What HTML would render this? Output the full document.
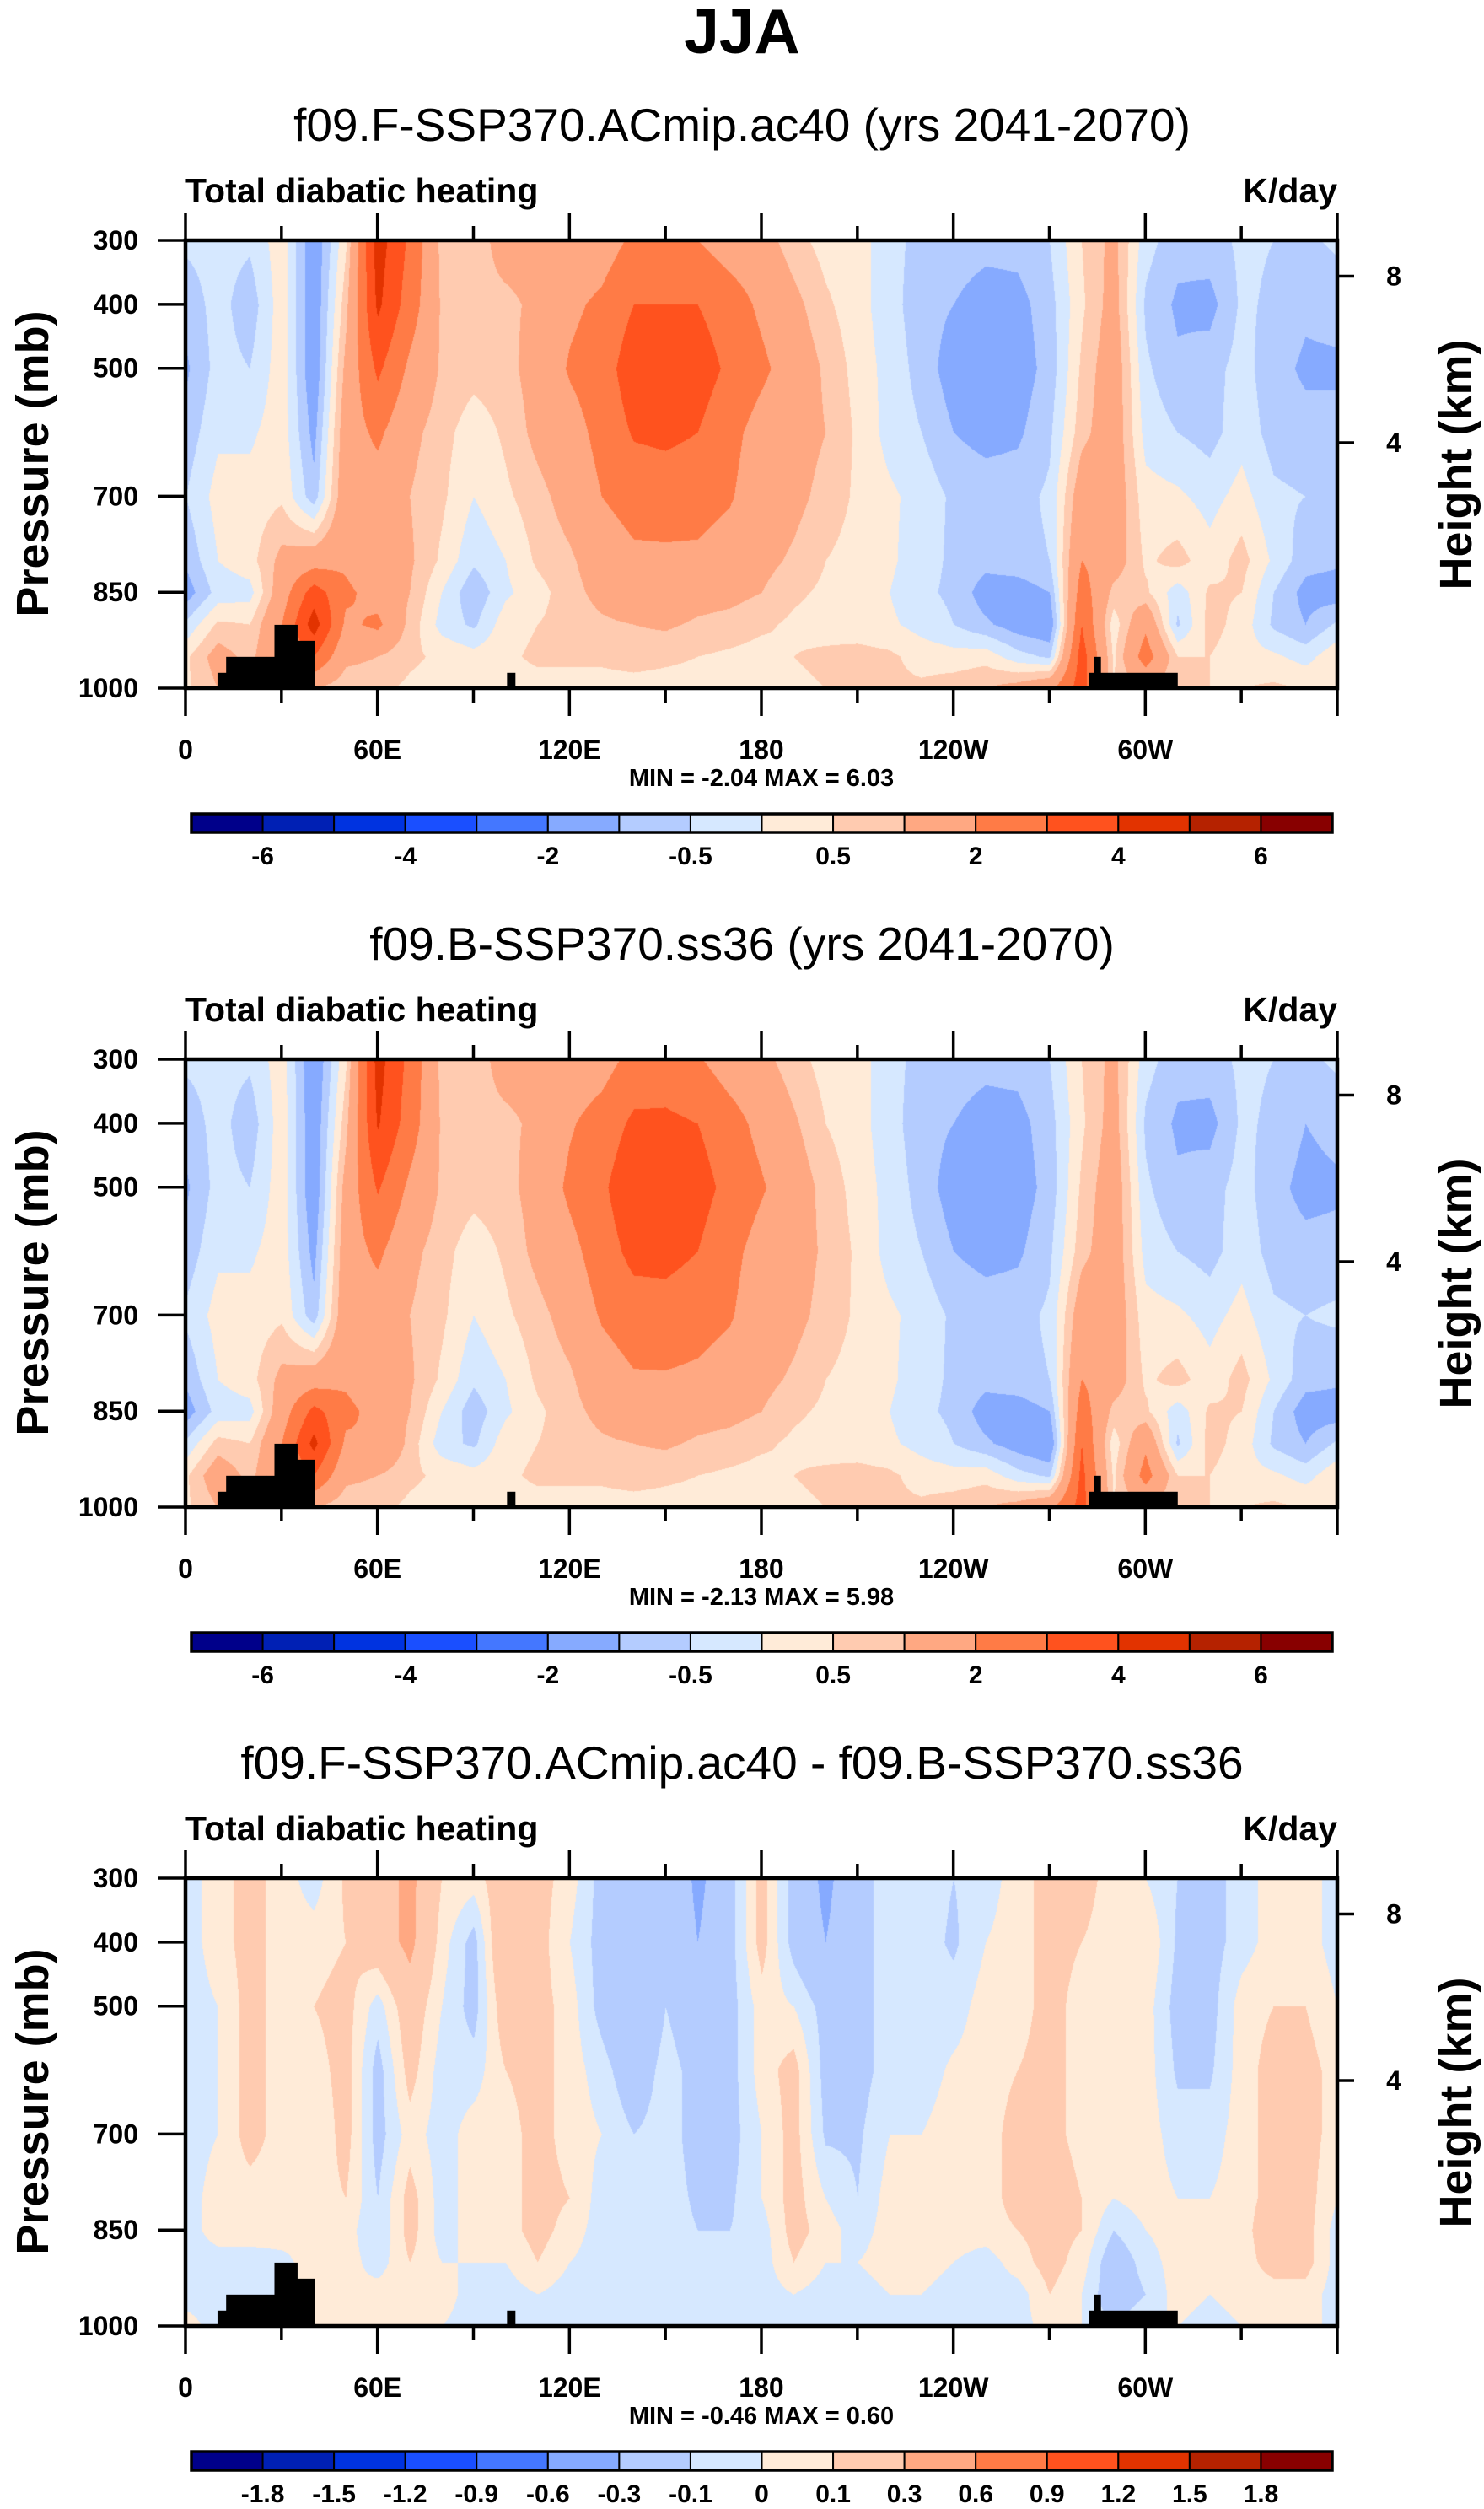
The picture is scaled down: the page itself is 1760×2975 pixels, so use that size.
<!DOCTYPE html>
<html><head><meta charset="utf-8">
<style>
html,body{margin:0;padding:0;background:#fff;}
#wrap{position:relative;width:1760px;height:2975px;overflow:hidden;background:#fff;}
canvas{position:absolute;left:220px;}
svg{position:absolute;left:0;top:0;}
text{font-family:"Liberation Sans",sans-serif;fill:#000;}
</style></head>
<body>
<div id="wrap">
<canvas id="c0" width="1366" height="531" style="top:285px"></canvas>
<canvas id="c1" width="1366" height="531" style="top:1256px"></canvas>
<canvas id="c2" width="1366" height="531" style="top:2227px"></canvas>
<svg id="ov" width="1760" height="2975" viewBox="0 0 1760 2975">
<text x="880" y="63" text-anchor="middle" font-size="75" font-weight="bold">JJA</text>
</svg>
</div>
<script>
// ---------- data ----------
const lonNodes=[0,10,20,30,40,50,60,70,80,90,100,110,120,130,140,150,160,170,180,190,200,210,220,230,240,250,260,270,280,290,300,310,320,330,340,350,360];
const presNodes=[300,400,500,600,700,800,850,900,950,1000];
// each inner array: one longitude column, values at presNodes (K/day)
const heat1=[
[-0.4,-0.8,-1.1,-0.8,-0.5,-0.9,-1.3,-0.4,0.4,0.4],
[-0.3,-0.3,-0.3,-0.1,0.2,0.0,-0.3,0.6,1.3,1.0],
[-0.4,-0.8,-0.5,-0.1,0.2,0.3,-0.2,0.5,0.8,0.5],
[0.3,0.3,0.3,0.3,0.4,1.2,1.5,2.0,2.0,1.0],
[-1.5,-1.5,-1.5,-1.2,-0.8,1.5,3.5,4.5,3.0,1.0],
[0.4,0.8,1.2,1.5,1.6,1.8,2.2,1.8,1.2,0.6],
[4.5,4.2,3.2,2.2,1.5,1.2,1.6,2.2,1.0,0.6],
[2.8,2.5,1.8,1.2,1.0,1.1,1.0,0.8,0.6,0.4],
[0.8,0.9,0.9,0.7,0.6,0.4,0.0,-0.2,0.4,0.3],
[0.8,0.9,0.7,0.2,0.0,-0.4,-0.9,-0.6,0.2,0.3],
[1.2,0.9,0.8,0.6,0.4,0.0,-0.1,0.3,0.4,0.3],
[1.2,1.1,1.3,1.2,0.8,0.6,0.3,0.5,0.6,0.3],
[1.3,1.8,2.1,1.6,1.3,0.9,0.8,0.7,0.6,0.3],
[1.5,2.2,2.5,2.3,2.0,1.4,1.2,0.9,0.6,0.3],
[2.2,3.0,3.6,3.1,2.4,1.8,1.5,1.0,0.7,0.3],
[2.3,3.0,3.4,3.2,2.5,1.8,1.5,1.1,0.6,0.3],
[2.0,3.0,3.5,3.0,2.4,1.8,1.3,0.9,0.5,0.3],
[1.5,2.5,2.8,2.3,2.1,1.5,1.2,0.8,0.4,0.3],
[1.3,1.8,2.2,1.6,1.4,1.2,1.0,0.6,0.3,0.2],
[0.7,1.2,1.5,1.3,1.2,0.9,0.6,0.4,0.5,0.4],
[0.3,0.6,0.9,1.0,0.8,0.5,0.4,0.3,0.6,0.5],
[0.2,0.2,0.3,0.4,0.4,0.3,0.2,0.2,0.7,0.6],
[-0.3,-0.3,-0.2,-0.2,0.1,0.1,0.0,0.1,0.6,0.6],
[-0.7,-0.8,-0.7,-0.5,-0.2,-0.3,-0.4,-0.2,0.3,0.6],
[-0.7,-1.0,-1.3,-1.0,-0.6,-0.6,-0.6,-0.5,0.2,0.8],
[-0.8,-1.3,-1.5,-1.2,-0.7,-0.8,-1.3,-0.9,0.3,1.0],
[-0.8,-1.2,-1.3,-1.1,-0.7,-0.7,-1.3,-1.3,-0.3,1.3],
[-0.5,-0.7,-0.8,-0.6,-0.4,-0.5,-1.0,-1.5,-0.6,1.8],
[0.5,0.4,0.6,0.8,1.5,2.0,2.5,3.0,3.5,3.5],
[1.2,1.3,1.5,1.5,1.5,1.4,0.8,0.2,0.4,0.5],
[-0.3,-0.6,-0.4,-0.2,0.2,0.4,0.6,1.8,2.5,1.0],
[-0.8,-1.1,-0.9,-0.5,0.1,0.7,-0.3,-0.6,0.5,0.5],
[-0.7,-1.2,-0.7,-0.7,-0.2,0.2,0.6,0.7,0.5,0.5],
[-0.4,-0.4,-0.3,-0.2,0.2,0.7,0.5,0.3,0.2,0.5],
[-0.5,-0.6,-0.8,-0.7,-0.4,-0.1,-0.5,-0.6,0.1,0.6],
[-0.6,-0.9,-1.1,-0.8,-0.5,-0.8,-1.2,-1.0,-0.2,0.5],
[-0.4,-0.8,-1.1,-0.8,-0.5,-0.9,-1.3,-0.4,0.4,0.4]
];
const heat2=[
[-0.4,-0.8,-1.1,-0.8,-0.4,-0.9,-1.3,-0.4,0.4,0.4],
[-0.3,-0.3,-0.3,-0.1,0.2,0.0,-0.3,0.7,1.5,1.0],
[-0.4,-0.8,-0.5,-0.1,0.2,0.3,-0.2,0.5,0.8,0.5],
[0.3,0.3,0.3,0.3,0.4,1.2,1.5,2.0,2.0,1.0],
[-1.6,-1.5,-1.5,-1.2,-0.8,1.5,3.3,4.3,3.0,1.0],
[0.4,0.8,1.3,1.5,1.6,1.8,2.3,1.8,1.2,0.6],
[4.4,4.1,3.1,2.2,1.5,1.2,1.6,2.0,1.0,0.6],
[2.7,2.5,1.8,1.2,1.0,1.1,1.0,0.8,0.6,0.4],
[0.8,0.9,0.9,0.7,0.6,0.4,0.0,-0.3,0.4,0.3],
[0.8,0.9,0.7,0.2,0.0,-0.4,-0.8,-0.6,0.2,0.3],
[1.2,0.9,0.8,0.6,0.4,0.0,-0.1,0.3,0.4,0.3],
[1.2,1.1,1.3,1.2,0.8,0.6,0.4,0.5,0.6,0.3],
[1.4,1.9,2.2,1.7,1.3,0.9,0.8,0.7,0.6,0.3],
[1.6,2.4,2.8,2.5,2.1,1.5,1.2,0.9,0.6,0.3],
[2.3,3.2,3.8,3.3,2.5,1.9,1.5,1.0,0.7,0.3],
[2.4,3.2,3.6,3.3,2.6,1.9,1.5,1.1,0.6,0.3],
[2.1,3.0,3.4,3.0,2.4,1.8,1.3,0.9,0.5,0.3],
[1.5,2.4,2.7,2.3,2.1,1.5,1.2,0.8,0.4,0.3],
[1.2,1.7,2.1,1.6,1.4,1.2,1.0,0.6,0.3,0.2],
[0.7,1.1,1.4,1.3,1.2,0.9,0.6,0.4,0.5,0.4],
[0.3,0.5,0.8,0.9,0.8,0.5,0.4,0.3,0.6,0.5],
[0.2,0.2,0.3,0.4,0.4,0.3,0.2,0.2,0.7,0.6],
[-0.3,-0.3,-0.2,-0.2,0.1,0.1,0.0,0.1,0.6,0.6],
[-0.7,-0.8,-0.7,-0.5,-0.2,-0.3,-0.4,-0.2,0.3,0.6],
[-0.7,-1.0,-1.3,-1.0,-0.6,-0.6,-0.6,-0.5,0.2,0.8],
[-0.8,-1.3,-1.5,-1.2,-0.7,-0.8,-1.3,-0.9,0.3,1.0],
[-0.8,-1.2,-1.3,-1.1,-0.7,-0.7,-1.3,-1.3,-0.3,1.3],
[-0.5,-0.7,-0.8,-0.6,-0.4,-0.5,-1.0,-1.6,-0.6,1.8],
[0.5,0.4,0.6,0.8,1.5,2.0,2.5,3.0,3.3,3.4],
[1.2,1.3,1.5,1.5,1.5,1.4,0.8,0.2,0.4,0.5],
[-0.3,-0.6,-0.4,-0.2,0.2,0.4,0.6,1.8,2.4,1.0],
[-0.8,-1.1,-0.9,-0.5,0.1,0.7,-0.3,-0.6,0.5,0.5],
[-0.7,-1.2,-0.7,-0.7,-0.2,0.2,0.6,0.7,0.5,0.5],
[-0.4,-0.4,-0.3,-0.2,0.2,0.7,0.5,0.3,0.2,0.5],
[-0.5,-0.6,-0.8,-0.7,-0.4,-0.1,-0.5,-0.6,0.1,0.6],
[-0.6,-1.0,-1.2,-0.8,-0.5,-0.8,-1.3,-1.0,-0.2,0.5],
[-0.4,-0.8,-1.1,-0.8,-0.4,-0.9,-1.3,-0.4,0.4,0.4]
];
const heat3=[
[-0.05,-0.05,-0.05,-0.05,-0.05,-0.05,-0.05,-0.05,-0.05,0.05],
[0.05,0.05,0.0,0.0,0.0,0.05,0.05,-0.05,-0.05,-0.05],
[0.15,0.15,0.15,0.15,0.15,0.05,0.05,-0.05,-0.05,-0.05],
[0.05,0.05,0.05,0.05,0.05,0.05,0.05,-0.03,-0.03,-0.03],
[-0.05,0.05,0.1,0.05,0.0,0.05,0.0,0.05,0.05,0.05],
[0.12,0.1,0.15,0.15,0.15,0.1,0.05,0.05,0.0,0.0],
[0.2,0.2,-0.05,-0.15,-0.15,-0.1,-0.1,-0.05,0.05,0.05],
[0.35,0.35,0.2,0.15,0.05,0.15,0.15,0.1,0.05,0.05],
[0.1,0.05,0.0,-0.05,-0.05,-0.05,-0.05,0.0,0.05,0.0],
[0.05,-0.15,-0.15,-0.05,0.05,0.05,0.05,0.0,-0.05,-0.05],
[0.2,0.3,0.2,0.1,0.05,0.05,0.05,0.0,-0.05,-0.05],
[0.15,0.15,0.15,0.15,0.15,0.15,0.15,0.1,0.0,0.0],
[0.05,0.0,0.05,0.05,0.05,0.1,0.05,0.0,-0.05,-0.05],
[-0.15,-0.15,-0.15,-0.05,0.0,-0.05,-0.05,-0.05,-0.05,-0.05],
[-0.2,-0.3,-0.3,-0.2,-0.1,-0.05,-0.05,-0.05,-0.05,-0.05],
[-0.1,-0.1,-0.1,-0.05,-0.05,-0.05,-0.05,-0.05,-0.05,-0.05],
[-0.35,-0.3,-0.2,-0.15,-0.15,-0.12,-0.1,-0.05,-0.05,-0.05],
[-0.15,-0.15,-0.15,-0.15,-0.15,-0.12,-0.1,-0.05,-0.05,-0.05],
[0.15,0.15,0.05,0.05,0.0,0.0,-0.05,-0.05,-0.05,-0.05],
[-0.15,-0.15,0.0,0.15,0.15,0.15,0.15,0.1,0.0,-0.05],
[-0.35,-0.3,-0.15,-0.15,-0.12,0.0,0.05,0.0,-0.05,-0.05],
[-0.15,-0.15,-0.15,-0.15,-0.12,-0.1,-0.05,0.0,-0.05,-0.05],
[-0.05,-0.05,-0.05,-0.05,0.0,0.05,0.05,0.05,0.0,-0.05],
[-0.05,-0.05,-0.05,-0.05,0.0,0.05,0.05,0.05,0.0,-0.05],
[-0.1,-0.12,-0.05,0.02,0.05,0.05,0.05,0.0,-0.05,-0.05],
[-0.05,0.0,0.05,0.05,0.05,0.05,0.05,-0.05,-0.05,-0.05],
[0.05,0.05,0.05,0.1,0.15,0.15,0.1,0.05,-0.05,-0.05],
[0.15,0.15,0.15,0.15,0.15,0.2,0.15,0.15,0.1,0.05],
[0.15,0.1,0.05,0.05,0.05,0.1,0.1,0.05,0.0,0.0],
[0.05,0.05,0.05,0.05,0.05,0.0,-0.1,-0.2,-0.2,-0.1],
[0.0,0.1,0.05,0.05,0.05,0.05,0.0,-0.05,-0.1,0.0],
[-0.1,-0.12,-0.15,-0.12,-0.05,0.0,0.05,0.05,0.05,0.0],
[-0.15,-0.15,-0.15,-0.12,-0.05,0.0,0.05,0.02,0.0,-0.05],
[-0.05,-0.05,0.05,0.05,0.05,0.05,0.05,0.05,0.05,0.0],
[0.05,0.05,0.1,0.15,0.15,0.15,0.2,0.15,0.05,0.0],
[0.05,0.05,0.1,0.15,0.15,0.15,0.15,0.15,0.05,0.0],
[-0.05,-0.05,0.0,0.05,0.05,0.0,-0.05,-0.05,-0.05,0.0]
];
const levels12=[-6,-5,-4,-3,-2,-1,-0.5,0,0.5,1,2,3,4,5,6];
const levels3=[-1.8,-1.5,-1.2,-0.9,-0.6,-0.3,-0.1,0,0.1,0.3,0.6,0.9,1.2,1.5,1.8];
const cbLabels12=["-6","-4","-2","-0.5","0.5","2","4","6"];
const cbLabelIdx12=[0,2,4,6,8,10,12,14];
const cbLabels3=["-1.8","-1.5","-1.2","-0.9","-0.6","-0.3","-0.1","0","0.1","0.3","0.6","0.9","1.2","1.5","1.8"];
const cbLabelIdx3=[0,1,2,3,4,5,6,7,8,9,10,11,12,13,14];
const palette=["#00008a","#0020b4","#0033e0","#1a4fff","#4477ff","#86aaff","#b4ccff","#d6e8ff","#ffebd8","#ffcbb0","#ffa882","#ff7b46","#ff521e","#e23300","#b52200","#880000"];
const xTickLons=[0,60,120,180,240,300];
const xTickLabels=["0","60E","120E","180","120W","60W"];
const pTicks=[300,400,500,700,850,1000];
const hTicks=[8,4];
const topoLonStart=[10,12.7,25.2,27.8,34.9,100.5,282.5,284,286];
const topoLonEnd=[12.7,25.2,27.8,34.9,40.4,103,284,286,310];
const topoTopP=[976,951,951,901,926,976,976,951,976];
const titles=["f09.F-SSP370.ACmip.ac40 (yrs 2041-2070)","f09.B-SSP370.ss36 (yrs 2041-2070)","f09.F-SSP370.ACmip.ac40 - f09.B-SSP370.ss36"];
const minVals=["-2.04","-2.13","-0.46"];
const maxVals=["6.03","5.98","0.60"];

// ---------- geometry ----------
const PX0=220,PW=1366,PY0=285,PH=531,DY=971;
function xOf(lon){return PX0+lon/360*PW;}
function yOf(p,k){return PY0+k*DY+(p-300)/700*PH;}
function pOfH(hkm){return 1013.25*Math.pow(1-2.25577e-5*hkm*1000,5.25588);}

const NS="http://www.w3.org/2000/svg";
const ov=document.getElementById('ov');
function mk(tag,attrs,parent){const e=document.createElementNS(NS,tag);for(const a in attrs)e.setAttribute(a,attrs[a]);(parent||ov).appendChild(e);return e;}

function hex(c){return [parseInt(c.substr(1,2),16),parseInt(c.substr(3,2),16),parseInt(c.substr(5,2),16)];}
const palRGB=palette.map(hex);

function sample(data,lon,p){
  let li=Math.min(Math.floor(lon/10),lonNodes.length-2);
  const tx=(lon-lonNodes[li])/10;
  let pi=0;while(pi<presNodes.length-2&&p>presNodes[pi+1])pi++;
  const ty=(p-presNodes[pi])/(presNodes[pi+1]-presNodes[pi]);
  const a=data[li][pi],b=data[li+1][pi],c=data[li][pi+1],d=data[li+1][pi+1];
  return (a*(1-tx)+b*tx)*(1-ty)+(c*(1-tx)+d*tx)*ty;
}
function drawField(k,data,levels){
  const cv=document.getElementById('c'+k),ctx=cv.getContext('2d');
  const img=ctx.createImageData(PW,PH);
  for(let j=0;j<PH;j++){
    const p=300+j/PH*700;
    for(let i=0;i<PW;i++){
      const lon=i/PW*360;
      const v=sample(data,lon,p);
      let idx=0;while(idx<levels.length&&v>=levels[idx])idx++;
      const c=palRGB[idx],o=(j*PW+i)*4;
      img.data[o]=c[0];img.data[o+1]=c[1];img.data[o+2]=c[2];img.data[o+3]=255;
    }
  }
  ctx.putImageData(img,0,0);
}

function drawPanel(k,data,levels,cbLabels,cbIdx){
  drawField(k,data,levels);
  const dy=k*DY;
  const g=mk('g',{});
  
  
  const t=mk('text',{x:880,y:167+dy,'text-anchor':'middle','font-size':55},g);
  t.textContent=titles[k];
  
  
  const l=mk('text',{x:220,y:240+dy,'font-size':41,'font-weight':'bold'},g);
  l.textContent='Total diabatic heating';
  
  
  const r=mk('text',{x:1586,y:240+dy,'font-size':41,'font-weight':'bold','text-anchor':'end'},g);
  r.textContent='K/day';
  
  
  for(let i=0;i<topoLonStart.length;i++){
    const x0=xOf(topoLonStart[i]),x1=xOf(topoLonEnd[i]);
    const rc=mk('rect',{x:x0,y:yOf(topoTopP[i],k),width:x1-x0+0.5,height:yOf(1000,k)-yOf(topoTopP[i],k),fill:'#000'},g);
    
    
  }
  const fr=mk('rect',{x:PX0,y:PY0+dy,width:PW,height:PH,fill:'none',stroke:'#000','stroke-width':4.5},g);
  
  
  for(let lon=0;lon<=360;lon+=30){
    const major=lon%60===0,x=xOf(lon),len=major?33:17;
    const tt=mk('line',{x1:x,x2:x,y1:PY0+dy,y2:PY0+dy-len,stroke:'#000','stroke-width':3.5},g);
    
    
    const tb=mk('line',{x1:x,x2:x,y1:PY0+PH+dy,y2:PY0+PH+dy+len,stroke:'#000','stroke-width':3.5},g);
    
    
  }
  for(let i=0;i<xTickLons.length;i++){
    const tx=mk('text',{x:xOf(xTickLons[i]),y:900+dy,'text-anchor':'middle','font-size':32,'font-weight':'bold'},g);
    tx.textContent=xTickLabels[i];
    
    
  }
  for(let i=0;i<pTicks.length;i++){
    const y=yOf(pTicks[i],k);
    const tl=mk('line',{x1:PX0,x2:PX0-33,y1:y,y2:y,stroke:'#000','stroke-width':3.5},g);
    
    
    const tx=mk('text',{x:164,y:y+11,'text-anchor':'end','font-size':32,'font-weight':'bold'},g);
    tx.textContent=String(pTicks[i]);
    
    
  }
  for(let i=0;i<hTicks.length;i++){
    const y=yOf(pOfH(hTicks[i]),k);
    const tl=mk('line',{x1:PX0+PW,x2:PX0+PW+20,y1:y,y2:y,stroke:'#000','stroke-width':3.5},g);
    
    
    const tx=mk('text',{x:1653,y:y+11,'text-anchor':'middle','font-size':32,'font-weight':'bold'},g);
    tx.textContent=String(hTicks[i]);
    
    
  }
  const yt=mk('text',{x:0,y:0,transform:'translate(57,'+(550+dy)+') rotate(-90)','text-anchor':'middle','font-size':54,'font-weight':'bold'},g);
  yt.textContent='Pressure (mb)';
  
  
  const ht=mk('text',{x:0,y:0,transform:'translate(1745,'+(551+dy)+') rotate(-90)','text-anchor':'middle','font-size':54,'font-weight':'bold'},g);
  ht.textContent='Height (km)';
  
  
  const mm=mk('text',{x:903,y:932+dy,'text-anchor':'middle','font-size':29,'font-weight':'bold','xml:space':'preserve'},g);
  mm.textContent='MIN =  '+minVals[k]+'  MAX =   '+maxVals[k];
  
  
  const cx0=227,cx1=1580,cy=965+dy,ch=22,bw=(cx1-cx0)/palette.length;
  for(let i=0;i<palette.length;i++){
    const b=mk('rect',{x:cx0+i*bw,y:cy,width:bw,height:ch,fill:palette[i],stroke:'#000','stroke-width':2},g);
    
    
  }
  const cf=mk('rect',{x:cx0,y:cy,width:cx1-cx0,height:ch,fill:'none',stroke:'#000','stroke-width':3.5},g);
  
  
  for(let i=0;i<cbLabels.length;i++){
    const x=cx0+(cbIdx[i]+1)*bw;
    const tx=mk('text',{x:x,y:1025+dy,'text-anchor':'middle','font-size':30,'font-weight':'bold'},g);
    tx.textContent=cbLabels[i];
    
    
  }
}
drawPanel(0,heat1,levels12,cbLabels12,cbLabelIdx12);
drawPanel(1,heat2,levels12,cbLabels12,cbLabelIdx12);
drawPanel(2,heat3,levels3,cbLabels3,cbLabelIdx3);
</script>
</body></html>
